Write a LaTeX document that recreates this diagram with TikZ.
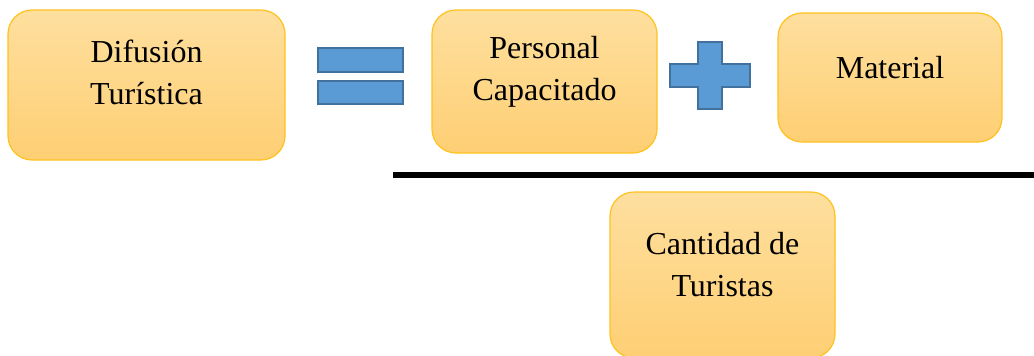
\documentclass[tikz,border=0pt]{standalone}
\usepackage{fontspec}
\setmainfont{Liberation Serif}
\definecolor{cajaarriba}{RGB}{254,223,158}
\definecolor{cajaabajo}{RGB}{254,207,116}
\definecolor{cajaborde}{RGB}{255,194,30}
\definecolor{signo}{RGB}{91,155,213}
\definecolor{signoborde}{RGB}{65,113,156}

\begin{document}
\begin{tikzpicture}[x=1pt,y=-1pt]
 \tikzstyle{every path}=[line width=1.2pt]

\tikzstyle{caja}=[draw=cajaborde,rounded corners=24pt,top color=cajaarriba,bottom color=cajaabajo]
\tikzstyle{texto}=[align=center,font=\fontsize{32}{42}\selectfont]
\tikzstyle{barra}=[draw=signoborde,fill=signo]

\useasboundingbox (0,0) rectangle (1034,356);

%% Cajas
\node[caja,minimum width=277,minimum height=150] (difusion) at (146.5,85) {};
\node[texto] (difusiontxt) at ([yshift=12.5]difusion.center) {Difusión\\Turística};

\node[caja,minimum width=225,minimum height=143] (personal) at (544.5,81.5) {};
\node[texto] (personaltxt) at ([yshift=10]personal.center) {Personal\\Capacitado};

\node[caja,minimum width=224,minimum height=129] (material) at (890,77.5) {};
\node[texto] (materialtxt) at ([yshift=10]material.center) {Material};

\node[caja,minimum width=225,minimum height=166] (cantidad) at (722.5,275) {};
\node[texto] (cantidadtxt) at ([yshift=10]cantidad.center) {Cantidad de\\Turistas};

%% Signos
\node[barra,minimum width=85,minimum height=24] (igualarriba) at (360.5,60) {};
\node[barra,minimum width=85,minimum height=23] (igualabajo) at (360.5,92.5) {};

\draw[barra] (698,42) -- (722,42) -- (722,64) -- (750,64) -- (750,87) -- (722,87)
  -- (722,109) -- (698,109) -- (698,87) -- (670,87) -- (670,64) -- (698,64) -- cycle;

%% Raya de division
\coordinate (rayaini) at (393,175);
\coordinate (rayafin) at (1034,175);
\draw[line width=6pt] (rayaini) -- (rayafin);

\end{tikzpicture}
\end{document}
